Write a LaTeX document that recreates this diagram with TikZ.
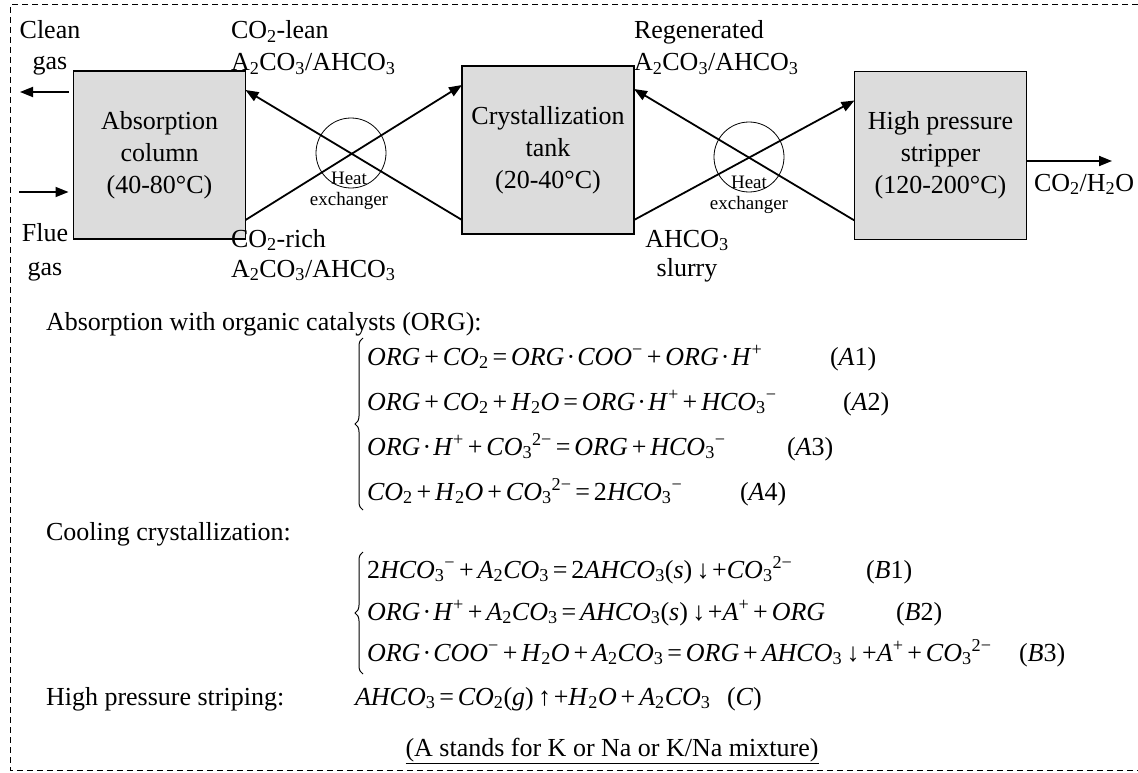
\documentclass[tikz,border=0pt]{standalone}
\usepackage{fontspec}
\setmainfont{Liberation Serif}
\usetikzlibrary{arrows.meta,decorations.pathreplacing,calc}
\definecolor{boxgray}{HTML}{DCDCDC}
\newcommand{\I}[1]{\textit{#1}}
\newcommand{\Sb}[1]{\textsubscript{#1}}
\newcommand{\Sp}[1]{\textsuperscript{#1}}
\newcommand{\Pl}{\hspace{0.15em}+\hspace{0.15em}}
\newcommand{\Eq}{\hspace{0.15em}=\hspace{0.15em}}
\newcommand{\Md}{\hspace{0.08em}·\hspace{0.08em}}
\begin{document}
\begin{tikzpicture}[x=1pt,y=-1pt,
  every node/.style={inner sep=0pt,outer sep=0pt},
  txt/.style={font=\fontsize{26}{32}\selectfont,anchor=base},
  txtl/.style={txt,anchor=base west},
  small/.style={font=\fontsize{19}{22}\selectfont,anchor=base},
  box/.style={draw=black,line width=1.3pt,fill=boxgray,minimum width=172pt,minimum height=168pt,align=center,font=\fontsize{26}{32}\selectfont},
  flow/.style={line width=1.8pt,-{Triangle[length=13pt,width=10pt]}},
  hx/.style={draw,line width=0.8pt,circle,minimum size=70pt},
  frame/.style={dash pattern=on 6pt off 4pt,line width=1pt},
  brc/.style={decorate,decoration={brace,amplitude=8pt},line width=1pt}]
\useasboundingbox (0,0) rectangle (1138,773);
% frame
\coordinate (f1) at (1138,5);
\coordinate (f2) at (10,5);
\coordinate (f3) at (10,770);
\coordinate (f4) at (1138,770);
\draw[frame] (f1) -- (f2) -- (f3) -- (f4);
% boxes
\node[box] (abs) at (159.5,155) {Absorption\\column\\(40-80°C)};
\node[box] (cry) at (548,150) {Crystallization\\tank\\(20-40°C)};
\node[box] (str) at (940.5,155.5) {High pressure\\stripper\\(120-200°C)};
% heat exchangers
\node[hx] (hx1) at (351,153) {};
\node[hx] (hx2) at (749,157) {};
\node[small] (ht1) at (349,185) {Heat};
\node[small] (ex1) at (349,205) {exchanger};
\node[small] (ht2) at (749,188) {Heat};
\node[small] (ex2) at (749,209) {exchanger};
% flows
\draw[flow] ($(abs.south east)+(0,-19)$) -- ($(cry.north west)+(0,19)$);
\draw[flow] ($(cry.south west)+(0,-14)$) -- ($(abs.north east)+(0,19)$);
\draw[flow] ($(cry.south east)+(0,-14)$) -- ($(str.north west)+(0,29)$);
\draw[flow] ($(str.south west)+(0,-19)$) -- ($(cry.north east)+(0,23)$);
\coordinate (cg) at (20,92);
\coordinate (fg) at (19,192);
\coordinate (co) at (1112,161);
\draw[flow] ($(abs.west)+(-5,-63)$) -- (cg);
\draw[flow] (fg) -- ($(abs.west)+(-5,37)$);
\draw[flow] ($(str.east)+(0,5.5)$) -- (co);
% top labels
\node[txt] (clean) at (50,39) {Clean};
\node[txt] (cleang) at (50,70) {gas};
\node[txt] (flue) at (45,241) {Flue};
\node[txt] (flueg) at (45,275) {gas};
\node[txtl] (lean1) at (231,39) {CO\Sb{2}-lean};
\node[txtl] (lean2) at (231,71) {A\Sb{2}CO\Sb{3}/AHCO\Sb{3}};
\node[txtl] (rich1) at (231,247) {CO\Sb{2}-rich};
\node[txtl] (rich2) at (231,277) {A\Sb{2}CO\Sb{3}/AHCO\Sb{3}};
\node[txtl] (reg1) at (634,39) {Regenerated};
\node[txtl] (reg2) at (634,71) {A\Sb{2}CO\Sb{3}/AHCO\Sb{3}};
\node[txt] (sl1) at (687,247) {AHCO\Sb{3}};
\node[txt] (sl2) at (687,276) {slurry};
\node[txtl] (out) at (1034,191) {CO\Sb{2}/H\Sb{2}O};
% reactions
\node[txtl] (labA) at (46,330) {Absorption with organic catalysts (ORG):};
\draw[brc] (363,510) -- (363,338);
\node[txtl] (eA1) at (367,365) {\I{ORG}\Pl\I{CO}\Sb{2}\Eq\I{ORG}\Md\I{COO}\Sp{−}\Pl\I{ORG}\Md\I{H}\Sp{+}};
\node[txtl] (nA1) at (830,365) {(\I{A}1)};
\node[txtl] (eA2) at (367,410) {\I{ORG}\Pl\I{CO}\Sb{2}\Pl\I{H}\Sb{2}\I{O}\Eq\I{ORG}\Md\I{H}\Sp{+}\Pl\I{HCO}\Sb{3}\Sp{−}};
\node[txtl] (nA2) at (843,410) {(\I{A}2)};
\node[txtl] (eA3) at (367,455) {\I{ORG}\Md\I{H}\Sp{+}\Pl\I{CO}\Sb{3}\Sp{2−}\Eq\I{ORG}\Pl\I{HCO}\Sb{3}\Sp{−}};
\node[txtl] (nA3) at (787,455) {(\I{A}3)};
\node[txtl] (eA4) at (367,500) {\I{CO}\Sb{2}\Pl\I{H}\Sb{2}\I{O}\Pl\I{CO}\Sb{3}\Sp{2−}\Eq 2\I{HCO}\Sb{3}\Sp{−}};
\node[txtl] (nA4) at (740,500) {(\I{A}4)};
\node[txtl] (labB) at (46,540) {Cooling crystallization:};
\draw[brc] (363,674) -- (363,552);
\node[txtl] (eB1) at (367,578) {2\I{HCO}\Sb{3}\Sp{−}\Pl\I{A}\Sb{2}\I{CO}\Sb{3}\Eq 2\I{AHCO}\Sb{3}(\I{s})\,↓\hspace{0.1em}+\I{CO}\Sb{3}\Sp{2−}};
\node[txtl] (nB1) at (866,578) {(\I{B}1)};
\node[txtl] (eB2) at (367,620) {\I{ORG}\Md\I{H}\Sp{+}\Pl\I{A}\Sb{2}\I{CO}\Sb{3}\Eq\I{AHCO}\Sb{3}(\I{s})\,↓\hspace{0.1em}+\I{A}\Sp{+}\Pl\I{ORG}};
\node[txtl] (nB2) at (896,620) {(\I{B}2)};
\node[txtl] (eB3) at (367,661) {\I{ORG}\Md\I{COO}\Sp{−}\Pl\I{H}\Sb{2}\I{O}\Pl\I{A}\Sb{2}\I{CO}\Sb{3}\Eq\I{ORG}\Pl\I{AHCO}\Sb{3}\,↓\hspace{0.1em}+\I{A}\Sp{+}\Pl\I{CO}\Sb{3}\Sp{2−}};
\node[txtl] (nB3) at (1019,661) {(\I{B}3)};
\node[txtl] (labC) at (46,705) {High pressure striping:};
\node[txtl] (eC) at (355,705) {\I{AHCO}\Sb{3}\Eq\I{CO}\Sb{2}(\I{g})\,↑\hspace{0.1em}+\I{H}\Sb{2}\I{O}\Pl\I{A}\Sb{2}\I{CO}\Sb{3}};
\node[txtl] (nC) at (727,705) {(\I{C})};
\node[txt] (note) at (612,756) {\underline{(A stands for K or Na or K/Na mixture)}};
\end{tikzpicture}
\end{document}
